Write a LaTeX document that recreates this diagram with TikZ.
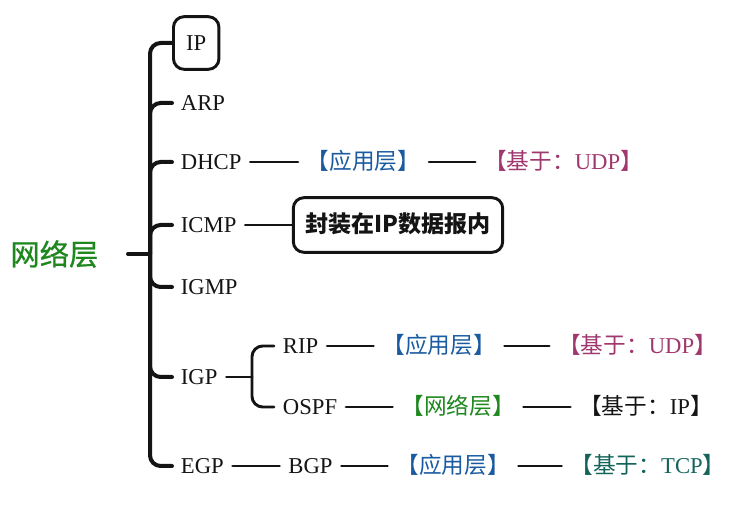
\documentclass[tikz,border=0pt]{standalone}
\usepackage{fontspec}
\setmainfont{Liberation Serif}
\newfontfamily\cjk{Noto Sans CJK SC}
\newfontfamily\cjkmed[FakeBold=0.8]{Noto Sans CJK SC}
\definecolor{nodegreen}{RGB}{30,135,30}
\definecolor{appblue}{RGB}{25,90,160}
\definecolor{udppink}{RGB}{160,55,110}
\definecolor{tcpteal}{RGB}{20,100,90}
\definecolor{ink}{RGB}{20,20,20}
\newcommand{\cj}[1]{{\cjk #1}}
\tikzset{
  txt/.style={font=\fontsize{17}{20}\selectfont, text=ink, inner xsep=6.5pt, inner ysep=2pt, text height=12pt, text depth=0pt},
  leaf/.style={txt, anchor=west},
  tag/.style={txt},
  trunk/.style={draw=ink, line width=3pt, rounded corners=8pt, line cap=round},
  fork/.style={draw=ink, line width=2.2pt, rounded corners=8pt, line cap=round},
  link/.style={draw=ink, line width=2.2pt, line cap=round},
  box/.style={draw=ink, line width=2.2pt, rounded corners=8pt}
}
\begin{document}
\begin{tikzpicture}[x=0.75pt,y=-0.75pt]
\useasboundingbox (0,0) rectangle (744,506);
% root
\node[anchor=east, font=\cjkmed\fontsize{22}{26}\selectfont, text=nodegreen, inner xsep=22pt, inner ysep=2pt, text height=16.8pt, text depth=0pt] (root) at (128,254) {网络层};
\coordinate (hub) at (150,254);
% first level
\node[txt, box, anchor=west, inner xsep=9.5pt, minimum height=39.5pt] (ip) at (172,43) {IP};
\node[leaf] (arp) at (172,103) {ARP};
\node[leaf] (dhcp) at (172,162) {DHCP};
\node[leaf] (icmp) at (172,225) {ICMP};
\node[leaf] (igmp) at (172,287) {IGMP};
\node[leaf] (igp) at (172,377) {IGP};
\node[leaf] (egp) at (172,466) {EGP};
\draw[trunk] (root.east) -- (hub);
\foreach \n in {ip,arp,dhcp,icmp,igmp,igp,egp}{
  \draw[trunk] (hub) |- (\n.west);
}
% DHCP row
\node[tag, text=appblue] (app1) at (363.5,162) {\cj{【应用层】}};
\node[tag, text=udppink] (udp1) at (563.5,162) {\cj{【基于：}UDP\cj{】}};
\draw[link] (dhcp.east) -- (app1.west);
\draw[link] (app1.east) -- (udp1.west);
% ICMP row
\node[txt, box, font=\cjk\bfseries\fontsize{17.3}{20}\selectfont, inner xsep=9pt, minimum height=41pt] (enc) at (398,225) {封装在IP数据报内};
\draw[link] (icmp.east) -- (enc.west);
% IGP
\coordinate (igpfork) at (252,377);
\node[leaf] (rip) at (274,346) {RIP};
\node[leaf] (ospf) at (274,407) {OSPF};
\draw[fork] (igp.east) -- (igpfork);
\draw[fork] (igpfork) |- (rip.west);
\draw[fork] (igpfork) |- (ospf.west);
\node[tag, text=appblue] (app2) at (439,346) {\cj{【应用层】}};
\node[tag, text=udppink] (udp2) at (637.5,346) {\cj{【基于：}UDP\cj{】}};
\draw[link] (rip.east) -- (app2.west);
\draw[link] (app2.east) -- (udp2.west);
\node[tag, text=nodegreen] (net2) at (458,407) {\cj{【网络层】}};
\node[tag] (ipb) at (646,407) {\cj{【基于：}IP\cj{】}};
\draw[link] (ospf.east) -- (net2.west);
\draw[link] (net2.east) -- (ipb.west);
% EGP row
\node[tag] (bgp) at (310.5,466) {BGP};
\node[tag, text=appblue] (app3) at (453,466) {\cj{【应用层】}};
\node[tag, text=tcpteal] (tcp) at (648,466) {\cj{【基于：}TCP\cj{】}};
\draw[link] (egp.east) -- (bgp.west);
\draw[link] (bgp.east) -- (app3.west);
\draw[link] (app3.east) -- (tcp.west);
\end{tikzpicture}
\end{document}
